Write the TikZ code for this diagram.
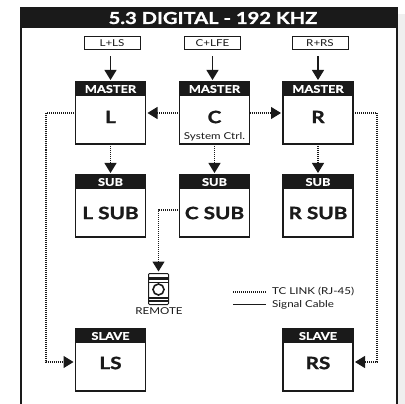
\documentclass[tikz,border=0pt]{standalone}
\usepackage{fontspec}
\setmainfont{Lato}
\newfontfamily\widefont[FakeStretch=1.22,BoldFeatures={FakeBold=1.2}]{Lato}
\usetikzlibrary{arrows.meta,calc}
\definecolor{ink}{HTML}{1A1A1A}
\definecolor{band}{HTML}{EFEFEF}
\tikzset{
  x=1pt,y=-1pt,
  unit/.style={draw=ink,line width=1.2pt,fill=white,minimum width=70pt,minimum height=62pt,inner sep=0pt,outer sep=0pt},
  head/.style={fill=ink,text=white,font=\widefont\bfseries\fontsize{10.5}{11}\selectfont,minimum width=70pt,minimum height=14pt,inner sep=0pt,outer sep=0pt},
  body/.style={text=ink,font=\widefont\bfseries\fontsize{17}{18}\selectfont,inner sep=0pt},
  input/.style={draw=ink,line width=1pt,fill=white,minimum width=56pt,minimum height=13pt,inner sep=0pt,outer sep=0pt,text=ink,font=\widefont\fontsize{9.5}{10}\selectfont},
  sig/.style={draw=ink,line width=1.1pt,-{Triangle[width=12pt,length=10pt]},shorten >=2pt},
  tc/.style={draw=ink,line width=1.1pt,dash pattern=on 1pt off 1pt,-{Triangle[width=12pt,length=10pt]},shorten >=2pt},
  legendtext/.style={anchor=west,text=ink,inner sep=0pt,font=\widefont\fontsize{9.5}{10}\selectfont},
}
\newcommand{\unitbox}[6]{%
  \node[unit] (#1) at (#2,#3) {};
  \node[head] (#1h) at (#2,#3-24) {#4};
  \node[body] (#1t) at (#2,#3+#6) {#5};
}
\begin{document}
\begin{tikzpicture}
\useasboundingbox (0,0) rectangle (405,404);
\fill[white] (0,0) rectangle (405,404);
\fill[band] (398,14) rectangle (405,404);
% frame
\draw[ink,line width=1.2pt] (21,28) -- (21,404) (397,28) -- (397,404);
\fill[ink] (20,7.5) rectangle (398,28.5);
\node[text=white,font=\widefont\bfseries\fontsize{16.5}{18}\selectfont,inner sep=0pt] (title) at (213,18) {5.3 DIGITAL - 192 KHZ};
% inputs
\node[input] (inL) at (112,43) {L+LS};
\node[input] (inC) at (212.5,43) {C+LFE};
\node[input] (inR) at (320,43) {R+RS};
% units
\unitbox{L}{110.5}{113}{MASTER}{L}{4}
\unitbox{C}{214.5}{113}{MASTER}{C}{4}
\unitbox{R}{318}{113}{MASTER}{R}{4}
\unitbox{LS1}{110.5}{206}{SUB}{L SUB}{7}
\unitbox{CS1}{214.5}{206}{SUB}{C SUB}{7}
\unitbox{RS1}{318}{206}{SUB}{R SUB}{7}
\unitbox{LSl}{110.5}{360}{SLAVE}{LS}{3}
\unitbox{RSl}{318}{360}{SLAVE}{RS}{3}
\node[text=ink,inner sep=0pt,font=\widefont\fontsize{9.5}{10}\selectfont] (sysctrl) at (214.5,136.5) {System Ctrl.};
% signal
\draw[sig] (inL.south -| L.north) ++(0,7) -- (L.north);
\draw[sig] (inC.south) ++(0,7) -- (inC.south |- C.north);
\draw[sig] (inR.south -| R.north) ++(0,7) -- (R.north);
% TC links
\draw[tc] (C.west) -- (L.east);
\draw[tc] (C.east) -- (R.west);
\draw[tc] (L.south) -- (LS1.north);
\draw[tc] (C.south) -- (CS1.north);
\draw[tc] (R.south) -- (RS1.north);
\coordinate (lc1) at (46,113);
\coordinate (lc2) at (46,362);
\coordinate (rc1) at (377,113);
\coordinate (rc2) at (377,362);
\draw[tc] (L.west) -- (lc1) -- (lc2) -- (LSl.west |- lc2);
\draw[tc] (R.east) -- (rc1) -- (rc2) -- (RSl.east |- rc2);
% remote
\node[draw=ink,line width=1pt,fill=white,minimum width=20pt,minimum height=31pt,inner sep=0pt,outer sep=0pt,rounded corners=1pt] (remote) at (158.5,289) {};
\fill[ink] (149,277) rectangle (168,280);
\fill[ink] (149,282) rectangle (168,283);
\draw[ink,line width=1.6pt] (158.5,289.5) circle (5.5pt);
\fill[ink] (149,297) rectangle (168,298.5);
\fill[ink] (149,300) rectangle (168,301.5);
\node[text=ink,inner sep=0pt,font=\widefont\fontsize{9.5}{10}\selectfont] (remotelabel) at (159,311.5) {REMOTE};
\coordinate (cr1) at (158.5,210);
\draw[tc] (CS1.west |- cr1) -- (cr1) -- (remote.north |- cr1) -- (remote.north);
% legend
\coordinate (la) at (233,292);
\coordinate (lb) at (266,292);
\coordinate (lc) at (233,304.5);
\coordinate (ld) at (266,304.5);
\draw[ink,line width=1.1pt,dash pattern=on 1pt off 1pt] (la) -- (lb);
\draw[ink,line width=1.1pt] (lc) -- (ld);
\node[legendtext] (t1) at (272,292) {TC LINK (RJ-45)};
\node[legendtext] (t2) at (272,304.5) {Signal Cable};
\end{tikzpicture}
\end{document}
